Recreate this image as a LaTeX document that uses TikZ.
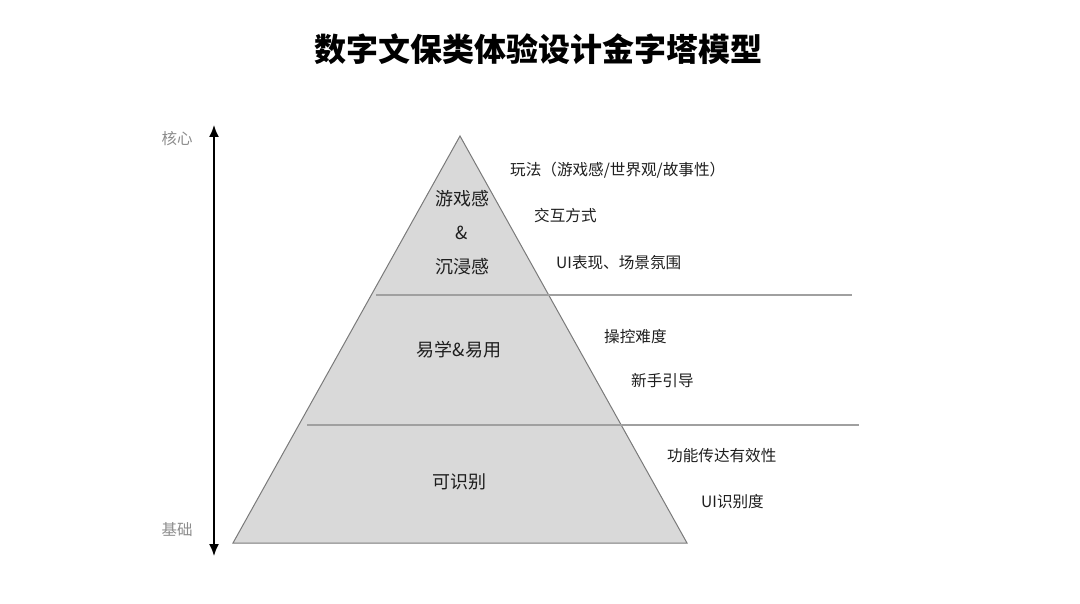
\documentclass[tikz,border=0pt]{standalone}
\usepackage{fontspec}
\setmainfont{Noto Sans CJK SC}
\usetikzlibrary{arrows.meta}
\definecolor{pyrfill}{HTML}{D9D9D9}
\definecolor{pyredge}{HTML}{7A7A7A}
\definecolor{sepline}{HTML}{A0A0A0}
\definecolor{sidegray}{HTML}{8C8C8C}
\definecolor{txt}{HTML}{1E1E1E}
\tikzset{
  inner/.style={font=\fontsize{18}{21}\selectfont, text=txt, inner sep=0pt},
  rightlbl/.style={font=\fontsize{15.6}{18}\selectfont, text=txt, anchor=west, inner sep=0pt},
  sidelbl/.style={font=\fontsize{15.5}{18}\selectfont, text=sidegray, inner sep=0pt},
  sep/.style={draw=sepline, line width=1.6pt},
  axis/.style={draw=black, line width=1.6pt, {Latex[length=12pt,width=10pt]}-{Latex[length=12pt,width=10pt]}}
}
\begin{document}
\begin{tikzpicture}[x=1pt,y=-1pt]
\useasboundingbox (0,0) rectangle (1080,604);
% title
\node[font=\fontsize{32}{37}\selectfont\bfseries, inner sep=0pt] (title) at (538,49) {数字文保类体验设计金字塔模型};
% pyramid
\coordinate (apex) at (460,136);
\coordinate (bl) at (233,543);
\coordinate (br) at (687,543);
\draw[fill=pyrfill, draw=pyredge, line width=1pt, line join=miter] (apex) -- (bl) -- (br) -- cycle;
% separators
\coordinate (s1l) at (376,295);
\coordinate (s1r) at (852,295);
\coordinate (s2l) at (307,425);
\coordinate (s2r) at (859,425);
\draw[sep] (s1l) -- (s1r);
\draw[sep] (s2l) -- (s2r);
% axis
\coordinate (atop) at (214,125);
\coordinate (abot) at (214,556);
\draw[axis] (abot) -- (atop);
\node[sidelbl] (core) at (177,139) {核心};
\node[sidelbl] (base) at (177,530) {基础};
% inner labels
\node[inner] (l1a) at (462,199) {游戏感};
\node[inner] (l1b) at (462,233) {\&};
\node[inner] (l1c) at (462,267) {沉浸感};
\node[inner] (l2) at (459,350) {易学\&易用};
\node[inner] (l3) at (459,482) {可识别};
% right labels
\node[rightlbl] (r1) at (510,170) {玩法（游戏感/世界观/故事性）};
\node[rightlbl] (r2) at (534,216) {交互方式};
\node[rightlbl] (r3) at (556,263) {UI表现、场景氛围};
\node[rightlbl] (r4) at (604,337) {操控难度};
\node[rightlbl] (r5) at (631,381) {新手引导};
\node[rightlbl] (r6) at (667,456) {功能传达有效性};
\node[rightlbl] (r7) at (701,502) {UI识别度};
\end{tikzpicture}
\end{document}
